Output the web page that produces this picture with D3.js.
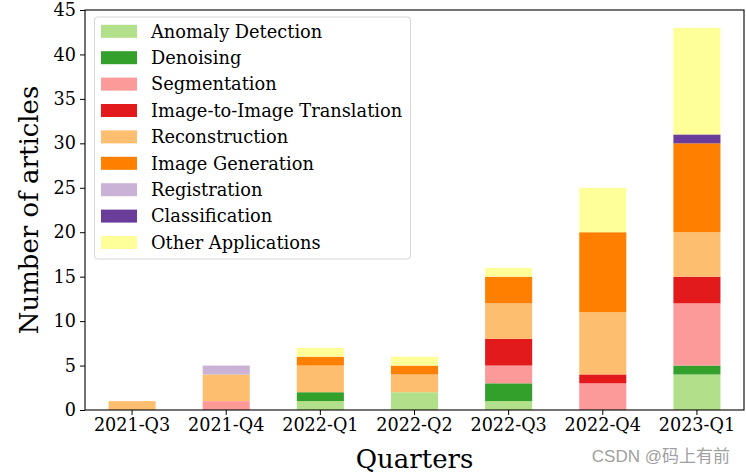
<!DOCTYPE html>
<html><head><meta charset="utf-8">
<script src="https://cdn.jsdelivr.net/npm/d3@7"></script>
<style>body{margin:0;background:#fff;} svg{display:block;}</style>
</head><body>
<svg id="chart" width="746" height="474"></svg>
<script>
const quarters = ["2021-Q3","2021-Q4","2022-Q1","2022-Q2","2022-Q3","2022-Q4","2023-Q1"];
const seriesNames = ["Anomaly Detection","Denoising","Segmentation","Image-to-Image Translation","Reconstruction","Image Generation","Registration","Classification","Other Applications"];
const seriesColors = ["#b2df8a","#33a02c","#fb9a99","#e31a1c","#fdbf6f","#ff7f00","#cab2d6","#6a3d9a","#ffff99"];
const anomalyDetection = [0,0,1,2,1,0,4];
const denoising        = [0,0,1,0,2,0,1];
const segmentation     = [0,1,0,0,2,3,7];
const imageToImage     = [0,0,0,0,3,1,3];
const reconstruction   = [1,3,3,2,4,7,5];
const imageGeneration  = [0,0,1,1,3,9,10];
const registration     = [0,1,0,0,0,0,0];
const classification   = [0,0,0,0,0,0,1];
const otherApps        = [0,0,1,1,1,5,12];
const yTicks = [0,5,10,15,20,25,30,35,40,45];

const seriesValues = [anomalyDetection,denoising,segmentation,imageToImage,reconstruction,imageGeneration,registration,classification,otherApps];
const table = quarters.map((q,i)=>{const o={quarter:q}; seriesNames.forEach((s,j)=>o[s]=seriesValues[j][i]); return o;});

const svg = d3.select("#chart");
const m = {left:85, right:2, top:10, bottom:64};
const W = 746, H = 474;
const x = d3.scaleBand().domain(quarters).range([m.left, W-m.right]).paddingInner(0.5).paddingOuter(0.25);
const y = d3.scaleLinear().domain([0,45]).range([H-m.bottom, m.top]);

const stack = d3.stack().keys(seriesNames)(table);
const color = d3.scaleOrdinal().domain(seriesNames).range(seriesColors);

svg.append("g").selectAll("g").data(stack).join("g")
  .attr("fill", d=>color(d.key))
  .selectAll("rect").data(d=>d).join("rect")
  .attr("x", d=>x(d.data.quarter))
  .attr("width", x.bandwidth())
  .attr("y", d=>y(d[1]))
  .attr("height", d=>y(d[0])-y(d[1]));

const font = "DejaVu Serif";
const xAxis = svg.append("g").attr("transform",`translate(0,${H-m.bottom})`)
  .call(d3.axisBottom(x).tickSize(5).tickPadding(4).tickSizeOuter(0));
const yAxis = svg.append("g").attr("transform",`translate(${m.left},0)`)
  .call(d3.axisLeft(y).tickValues(yTicks).tickSize(5).tickPadding(4).tickSizeOuter(0));
[xAxis,yAxis].forEach(a=>{
  a.selectAll("text").attr("font-family",font).attr("font-size",17.6).attr("fill","#000");
  a.selectAll("line").attr("stroke","#000").attr("stroke-width",1);
  a.select(".domain").remove();
});
svg.append("rect").attr("x",m.left).attr("y",m.top).attr("width",W-m.right-m.left).attr("height",H-m.bottom-m.top)
  .attr("fill","none").attr("stroke","#000").attr("stroke-width",1.1);

svg.append("text").attr("x",(m.left+W-m.right)/2).attr("y",468).attr("text-anchor","middle")
  .attr("font-family",font).attr("font-size",26).text("Quarters");
svg.append("text").attr("transform",`translate(38,${(m.top+H-m.bottom)/2}) rotate(-90)`).attr("text-anchor","middle")
  .attr("font-family",font).attr("font-size",26).text("Number of articles");

// legend
const lg = svg.append("g");
lg.append("rect").attr("x",94.5).attr("y",17).attr("width",316).attr("height",242).attr("rx",3)
  .attr("fill","#fff").attr("fill-opacity",0.8).attr("stroke","#d6d6d6").attr("stroke-width",1);
seriesNames.forEach((s,i)=>{
  const cy = 31.3 + i*26.4;
  lg.append("rect").attr("x",101).attr("y",cy-6.5).attr("width",36).attr("height",13).attr("fill",seriesColors[i]);
  lg.append("text").attr("x",151).attr("y",cy).attr("dy","0.35em").attr("font-family",font).attr("font-size",17.8).text(s);
});

svg.append("text").attr("x",730).attr("y",462).attr("text-anchor","end")
  .attr("font-family","Liberation Sans, Noto Sans CJK SC, sans-serif").attr("font-size",17).attr("fill","#a0a0a0").text("CSDN @码上有前");
</script>
</body></html>
